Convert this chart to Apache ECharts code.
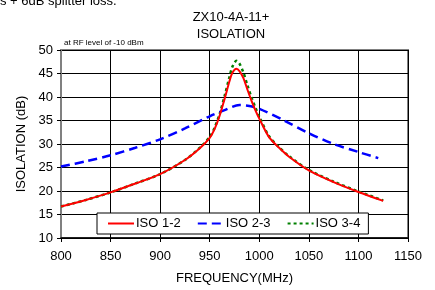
<!DOCTYPE html>
<html>
<head>
<meta charset="utf-8">
<script src="https://cdn.jsdelivr.net/npm/echarts@6/dist/echarts.min.js"></script>
<style>
  html, body { margin: 0; padding: 0; background: #fff; }
  #chart { width: 435px; height: 290px; }
</style>
</head>
<body>
<div id="chart"></div>
<script>
// frequency points (MHz) and isolation readings (dB)
const freqIso = [800, 825, 850, 875, 900, 925, 940, 950, 955, 960, 965, 970, 973, 977, 980, 984, 988, 992, 996, 1000, 1010, 1020, 1030, 1050, 1075, 1100, 1125]
const iso12 = [16.7, 18.1, 19.7, 21.6, 23.6, 26.6, 29.1, 31.3, 33.2, 36.0, 39.6, 43.4, 45.2, 46.0, 45.5, 44.0, 41.6, 39.3, 37.2, 35.4, 31.4, 29.2, 27.3, 24.4, 21.9, 19.8, 17.9]
const iso34 = [16.7, 18.1, 19.7, 21.6, 23.6, 26.6, 29.2, 31.5, 33.5, 36.4, 40.2, 44.3, 46.5, 47.7, 47.1, 45.2, 42.5, 40.0, 37.8, 35.8, 31.6, 29.3, 27.4, 24.5, 22.0, 19.9, 18.0]
const freq23 = [800, 825, 850, 875, 900, 925, 950, 965, 980, 990, 1000, 1025, 1050, 1075, 1100, 1120]
const iso23 = [25.2, 26.3, 27.6, 29.2, 31.0, 33.3, 35.9, 37.2, 38.3, 38.1, 37.5, 35.0, 32.3, 30.0, 28.3, 27.0]
const seriesNames = ['ISO 1-2', 'ISO 2-3', 'ISO 3-4']

const pairs = (xs, ys) => xs.map((x, i) => [x, ys[i]])

const myChart = echarts.init(document.getElementById('chart'))
const font = 'Liberation Sans, Arial, sans-serif'
const option = {
  animation: false,
  textStyle: { fontFamily: font },
  graphic: [
    { type: 'text', x: 0, y: -5, style: { text: 's + 6dB splitter loss.', fontSize: 13, fill: '#000', fontFamily: font } },
    { type: 'text', x: 231, y: 9, style: { text: 'ZX10-4A-11+\nISOLATION', fontSize: 13, lineHeight: 17, fill: '#000', align: 'center', fontFamily: font } },
    { type: 'text', x: 64, y: 39, style: { text: 'at RF level of -10 dBm', fontSize: 8, fill: '#000', fontFamily: font } }
  ],
  grid: { left: 61, right: 27, top: 50, bottom: 48, show: true, borderColor: '#808080', borderWidth: 2, backgroundColor: 'transparent' },
  legend: {
    data: seriesNames,
    left: 97,
    top: 213,
    padding: [4, 8, 4, 10],
    itemGap: 16,
    itemWidth: 26,
    itemHeight: 10,
    itemStyle: { opacity: 0 },
    borderColor: '#000',
    borderWidth: 1,
    borderRadius: 0,
    backgroundColor: '#fff',
    textStyle: { fontSize: 13, color: '#000', fontFamily: font, padding: [0, 0, 0, -3] }
  },
  xAxis: {
    type: 'value',
    min: 800,
    max: 1150,
    interval: 50,
    name: 'FREQUENCY(MHz)',
    nameLocation: 'middle',
    nameGap: 34,
    nameTextStyle: { fontSize: 13, color: '#000' },
    axisLine: { lineStyle: { color: '#000', width: 1.5 } },
    axisTick: { show: true, length: 4, lineStyle: { color: '#000' } },
    axisLabel: { fontSize: 13, color: '#000', margin: 12, formatter: (v) => String(v) },
    splitLine: { show: true, lineStyle: { color: '#000', width: 1 } }
  },
  yAxis: {
    type: 'value',
    min: 10,
    max: 50,
    interval: 5,
    name: 'ISOLATION (dB)',
    nameLocation: 'middle',
    nameGap: 25,
    nameTextStyle: { fontSize: 13, color: '#000' },
    axisLine: { show: true, lineStyle: { color: '#808080', width: 2 } },
    axisTick: { show: true, length: 4, lineStyle: { color: '#000' } },
    axisLabel: { fontSize: 13, color: '#000', margin: 8 },
    splitLine: { show: true, lineStyle: { color: '#000', width: 1 } }
  },
  series: [
    {
      name: 'ISO 3-4',
      type: 'line',
      data: pairs(freqIso, iso34),
      symbol: 'none',
      smooth: 0.3,
      z: 2,
      lineStyle: { color: '#008000', width: 2.5, type: [3, 3] },
      itemStyle: { color: '#008000' }
    },
    {
      name: 'ISO 2-3',
      type: 'line',
      data: pairs(freq23, iso23),
      symbol: 'none',
      smooth: 0.3,
      z: 3,
      lineStyle: { color: '#0000ff', width: 2.5, type: [9, 5] },
      itemStyle: { color: '#0000ff' }
    },
    {
      name: 'ISO 1-2',
      type: 'line',
      data: pairs(freqIso, iso12),
      symbol: 'none',
      smooth: 0.3,
      z: 4,
      lineStyle: { color: '#ff0000', width: 2 },
      itemStyle: { color: '#ff0000' }
    }
  ]
}
myChart.setOption(option)
</script>
</body>
</html>
